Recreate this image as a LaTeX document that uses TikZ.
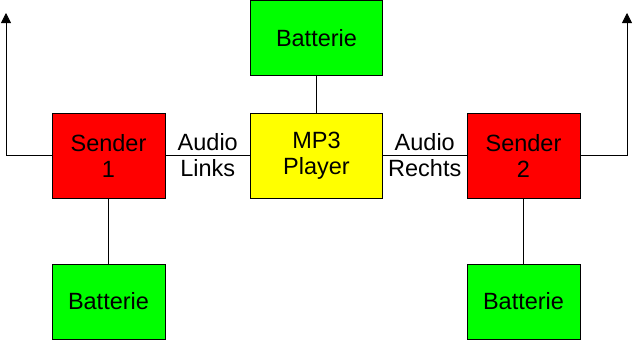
\documentclass[tikz,border=0pt]{standalone}
\usepackage{fontspec}
\setmainfont{Liberation Sans}
\usetikzlibrary{arrows.meta}
\definecolor{sred}{RGB}{255,0,0}
\definecolor{bgreen}{RGB}{0,255,0}
\definecolor{myellow}{RGB}{255,255,0}
\begin{document}
\begin{tikzpicture}[x=1pt,y=-1pt,
  box/.style={draw=black,line width=0.8pt,inner sep=0pt,align=center,font=\fontsize{23.5}{26}\selectfont},
  lbl/.style={align=center,inner sep=0pt,font=\fontsize{23.5}{26}\selectfont},
  conn/.style={draw=black,line width=0.8pt}]
\useasboundingbox (0,0) rectangle (635,340);
\node[box,fill=sred,minimum width=113pt,minimum height=85pt] (s1) at (108.5,155.5) {Sender\\1};
\node[box,fill=myellow,minimum width=132pt,minimum height=85pt] (mp3) at (316.5,155.5) {MP3\\Player};
\node[box,fill=sred,minimum width=113pt,minimum height=85pt] (s2) at (523.5,155.5) {Sender\\2};
\node[box,fill=bgreen,minimum width=132pt,minimum height=75pt] (bt) at (316.5,38) {Batterie};
\node[box,fill=bgreen,minimum width=113pt,minimum height=75pt] (b1) at (108.5,301.5) {Batterie};
\node[box,fill=bgreen,minimum width=113pt,minimum height=75pt] (b2) at (523.5,301.5) {Batterie};
\coordinate (la) at (6,13);
\coordinate (ra) at (627,13);
\draw[conn] (bt) -- (mp3);
\draw[conn] (s1) -- (b1);
\draw[conn] (s2) -- (b2);
\draw[conn] (s1) -- (mp3) node[lbl,midway] {Audio\\Links};
\draw[conn] (mp3) -- (s2) node[lbl,midway] {Audio\\Rechts};
\draw[conn,-{Triangle[length=10pt,width=10pt]}] (s1.west) -| (la);
\draw[conn,-{Triangle[length=10pt,width=10pt]}] (s2.east) -| (ra);
\end{tikzpicture}
\end{document}
